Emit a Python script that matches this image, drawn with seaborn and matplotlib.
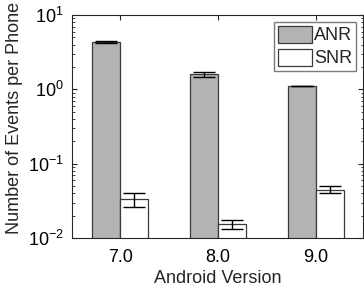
import numpy as np
import pandas as pd
import matplotlib
matplotlib.use("Agg")
import matplotlib.pyplot as plt
import seaborn as sns

# values
versions = ["7.0", "8.0", "9.0"]
anr_mean = [4.33, 1.61, 1.11]
anr_err = [0.08, 0.13, 0.01]
snr_mean = [0.0337, 0.0154, 0.045]
snr_err = [0.0073, 0.0023, 0.0052]

df = pd.DataFrame({
    "version": versions * 2,
    "kind": ["ANR"] * 3 + ["SNR"] * 3,
    "value": anr_mean + snr_mean,
    "err": anr_err + snr_err,
})

sns.set_style("ticks")
plt.rcParams["font.family"] = ["Liberation Sans", "DejaVu Sans"]
plt.rcParams["mathtext.fontset"] = "custom"
plt.rcParams["mathtext.rm"] = "Liberation Sans"

fig = plt.figure(figsize=(3.64, 2.95), dpi=100)
ax = fig.add_axes([0.198, 0.193, 0.799, 0.756])
ax.set_yscale("log")

sns.barplot(data=df, x="version", y="value", hue="kind", order=versions,
            hue_order=["ANR", "SNR"], palette=["#b3b3b3", "#ffffff"],
            width=0.574, errorbar=None, edgecolor="#3a3a3a", linewidth=0.9,
            ax=ax)

# error bars centred on the bars seaborn drew
for cont, kind in zip(ax.containers, ["ANR", "SNR"]):
    sub = df[df["kind"] == kind]
    xs = [p.get_x() + p.get_width() / 2 for p in cont.patches]
    ax.errorbar(xs, sub["value"], yerr=sub["err"], fmt="none", ecolor="black",
                elinewidth=1.0, capsize=8, capthick=1.0, zorder=5)

ax.set_ylim(1e-2, 1e1)
ax.set_xlim(-0.494, 2.48)
ax.set_xlabel("Android Version", fontsize=13, labelpad=3)
ax.set_ylabel("Number of Events per Phone", fontsize=13)
ax.yaxis.set_label_coords(-0.17, 0.54)

for s in ax.spines.values():
    s.set_visible(True)
    s.set_color("#262626")
    s.set_linewidth(0.8)

ax.tick_params(axis="both", which="both", direction="in", top=True, right=True,
               labelsize=13, colors="#262626", labelcolor="black")
ax.tick_params(axis="x", which="major", length=3.5, pad=8)
ax.tick_params(axis="y", which="major", length=3.5, pad=6)
ax.tick_params(axis="y", which="minor", length=1.8)

handles, labels = ax.get_legend_handles_labels()
ax.legend(handles, labels, loc="upper right", fontsize=13, frameon=True,
          fancybox=False, edgecolor="#7a7a7a", framealpha=1,
          handlelength=1.9, handleheight=1.05, handletextpad=0.1,
          labelspacing=0.25, borderpad=0.2, borderaxespad=0.4)

fig.savefig("out.png", dpi=100)
